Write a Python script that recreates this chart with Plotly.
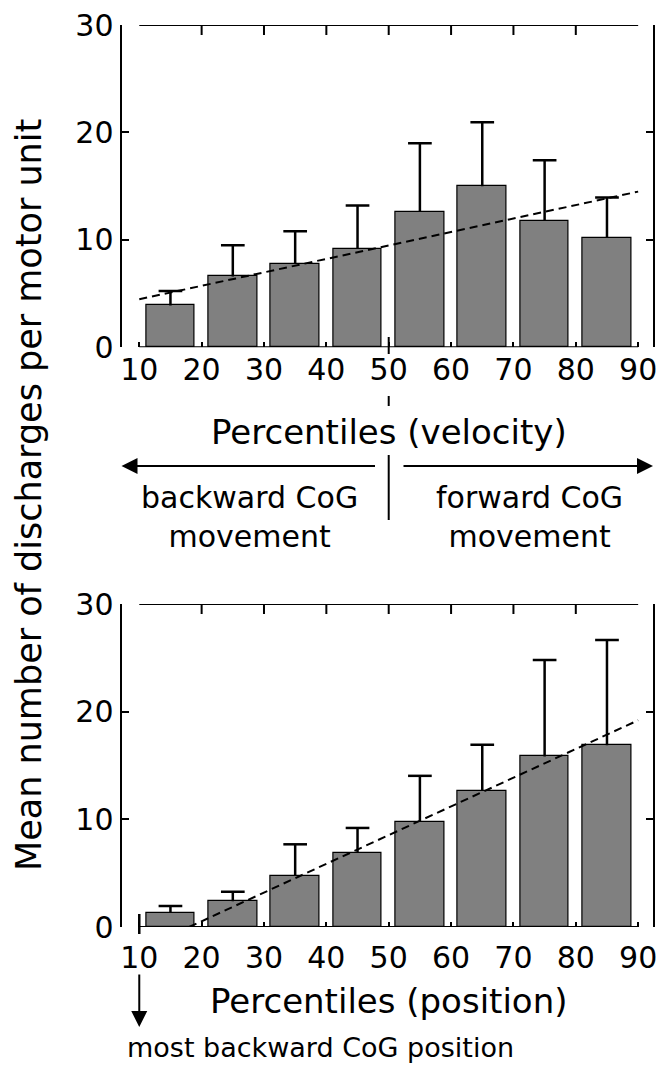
import plotly.graph_objects as go

# ---------------- data ----------------
bin_centers = [15, 25, 35, 45, 55, 65, 75, 85]
tick_vals = [10, 20, 30, 40, 50, 60, 70, 80, 90]
tick_text = ["10", "20", "30", "40", "50", "60", "70", "80", "90"]
y_ticks = [0, 10, 20, 30]

vel_mean = [3.9, 6.6, 7.8, 9.15, 12.6, 15.0, 11.8, 10.2]
vel_sd = [1.35, 2.9, 3.0, 4.05, 6.4, 5.95, 5.6, 3.75]
vel_fit_x = [10, 90]
vel_fit_y = [4.47, 14.49]

pos_mean = [1.33, 2.39, 4.74, 6.88, 9.79, 12.64, 15.84, 16.89]
pos_sd = [0.62, 0.89, 2.94, 2.32, 4.25, 4.28, 8.95, 9.76]
pos_fit_x = [18, 90]
pos_fit_y = [0, 19.2]

# ---------------- layout helpers ----------------
W, H = 659, 1077
FONT = "DejaVu Sans"
X_RANGE = [7.15, 92.3]
Y_RANGE = [0, 30]
X_L, X_R = 121.5, 652.5
TOP_Y0, TOP_Y1 = 25, 347.3
BOT_Y0, BOT_Y1 = 604, 927


def py(p):
    return 1 - p / H


def px(p):
    return p / W


def cap_segments(xs, means, sds, half):
    ex, ey = [], []
    for x, m, s in zip(xs, means, sds):
        ex += [x, x, None, x - half, x + half, None]
        ey += [m, m + s, None, m + s, m + s, None]
    return ex, ey


fig = go.Figure()

panels = [
    ("x", "y", vel_mean, vel_sd, vel_fit_x, vel_fit_y),
    ("x2", "y2", pos_mean, pos_sd, pos_fit_x, pos_fit_y),
]
for xa, ya, mean, sd, fx, fy in panels:
    fig.add_trace(go.Bar(
        x=bin_centers, y=mean, width=7.8, xaxis=xa, yaxis=ya,
        marker=dict(color="#808080", line=dict(color="black", width=1.2)),
        showlegend=False, hoverinfo="skip"))
    ex, ey = cap_segments(bin_centers, mean, sd, 1.9)
    fig.add_trace(go.Scatter(
        x=ex, y=ey, mode="lines", xaxis=xa, yaxis=ya,
        line=dict(color="black", width=2.5), showlegend=False,
        hoverinfo="skip", cliponaxis=False))
    fig.add_trace(go.Scatter(
        x=fx, y=fy, mode="lines", xaxis=xa, yaxis=ya,
        line=dict(color="black", width=2, dash="8px,5px"),
        showlegend=False, hoverinfo="skip"))

xdom = [X_L / W, X_R / W]
common_x = dict(range=X_RANGE, showgrid=False, zeroline=False, showline=False,
                ticks="inside", ticklen=5, tickwidth=2, tickcolor="black",
                tickvals=tick_vals, ticktext=tick_text,
                tickfont=dict(family=FONT, size=30, color="black"),
                domain=xdom, fixedrange=True, automargin=False)
common_y = dict(range=Y_RANGE, showgrid=False, zeroline=False, showline=True,
                linewidth=2, linecolor="black", mirror="ticks",
                ticks="inside", ticklen=7, tickwidth=2, tickcolor="black",
                tickvals=y_ticks,
                tickfont=dict(family=FONT, size=30, color="black"),
                fixedrange=True, automargin=False)

fig.update_layout(
    width=W, height=H, autosize=False,
    margin=dict(l=0, r=0, t=0, b=0, pad=0, autoexpand=False),
    paper_bgcolor="white", plot_bgcolor="white",
    xaxis=dict(common_x, anchor="y", ticklabelstandoff=2),
    yaxis=dict(common_y, anchor="x", domain=[py(TOP_Y1), py(TOP_Y0)]),
    xaxis2=dict(common_x, anchor="y2", ticklabelstandoff=10),
    yaxis2=dict(common_y, anchor="x2", domain=[py(BOT_Y1), py(BOT_Y0)]),
    bargap=0,
)

shapes = []
tick_len_data = 10 / ((TOP_Y1 - TOP_Y0) / 30)
for xr, yr in (("x", "y"), ("x2", "y2")):
    shapes.append(dict(type="line", xref=xr, yref=yr, x0=10, x1=90, y0=0, y1=0,
                       line=dict(color="black", width=2)))
    shapes.append(dict(type="line", xref=xr, yref=yr, x0=10, x1=90, y0=30, y1=30,
                       line=dict(color="black", width=2)))
    for t in tick_vals[1:-1]:
        shapes.append(dict(type="line", xref=xr, yref=yr, x0=t, x1=t,
                           y0=30, y1=30 - tick_len_data,
                           line=dict(color="black", width=2)))

# long tick at 50 and the velocity sign separators
shapes.append(dict(type="line", xref="x", yref="paper", x0=50, x1=50,
                   y0=py(337), y1=py(354), line=dict(color="black", width=2)))
shapes.append(dict(type="line", xref="x", yref="paper", x0=50, x1=50,
                   y0=py(396), y1=py(406), line=dict(color="black", width=2)))
shapes.append(dict(type="line", xref="x", yref="paper", x0=50, x1=50,
                   y0=py(455), y1=py(520), line=dict(color="black", width=2)))
# long tick at 10 in the position panel
shapes.append(dict(type="line", xref="x2", yref="paper", x0=10, x1=10,
                   y0=py(914), y1=py(934), line=dict(color="black", width=2.5)))
fig.update_layout(shapes=shapes)

ann = []
ann.append(dict(x=px(121.5), y=py(466), xref="paper", yref="paper", axref="pixel", ayref="pixel",
                ax=255, ay=0, text="", showarrow=True, arrowhead=2, arrowsize=1.6,
                arrowwidth=2, arrowcolor="black"))
ann.append(dict(x=px(653), y=py(466), xref="paper", yref="paper", axref="pixel", ayref="pixel",
                ax=-251, ay=0, text="", showarrow=True, arrowhead=2, arrowsize=1.6,
                arrowwidth=2, arrowcolor="black"))
ann.append(dict(x=10, y=py(1027), xref="x2", yref="paper", axref="pixel", ayref="pixel",
                ax=0, ay=-54, text="", showarrow=True, arrowhead=2, arrowsize=1.6,
                arrowwidth=2, arrowcolor="black"))


def label(text, x, y, size, xref="x", xanchor="center", angle=0):
    return dict(text=text, x=x, y=y, xref=xref, yref="paper", showarrow=False,
                xanchor=xanchor, yanchor="middle", textangle=angle,
                font=dict(family=FONT, size=size, color="black"))


ann.append(label("Percentiles (velocity)", 50, py(432), 34))
ann.append(label("backward CoG<br>movement", 27.75, py(517), 30))
ann.append(label("forward CoG<br>movement", 72.6, py(517), 30))
ann.append(label("Percentiles (position)", 50, py(1001), 34, xref="x2"))
ann.append(label("most backward CoG position", 7.7, py(1047), 27, xref="x2", xanchor="left"))
ann.append(label("Mean number of discharges per motor unit", 29 / W, py(495), 35,
                 xref="paper", angle=-90))
fig.update_layout(annotations=ann)

fig.write_html("out.html")
